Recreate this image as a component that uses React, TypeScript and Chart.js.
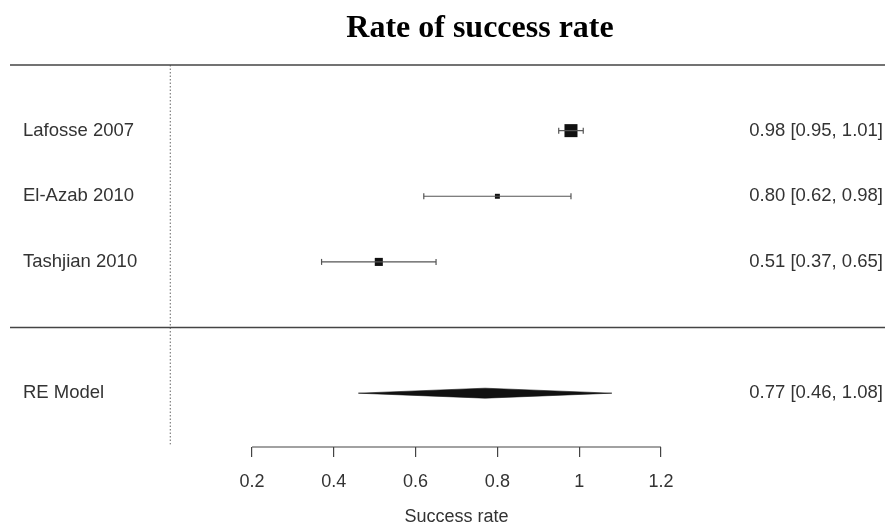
import React, { useEffect, useRef } from "react";
import { Chart, registerables } from "chart.js";

Chart.register(...registerables);

// Study-level results
const studies = ["Lafosse 2007", "El-Azab 2010", "Tashjian 2010"];
const estimates = [0.98, 0.8, 0.51];
const lowerCI = [0.95, 0.62, 0.37];
const upperCI = [1.01, 0.98, 0.65];

// Random-effects summary
const summaryLabel = "RE Model";
const summaryEstimate = 0.77;
const summaryLower = 0.46;
const summaryUpper = 1.08;

// Axis
const tickValues = [0.2, 0.4, 0.6, 0.8, 1.0, 1.2];
const tickLabels = ["0.2", "0.4", "0.6", "0.8", "1", "1.2"];
const axisTitle = "Success rate";
const chartTitle = "Rate of success rate";

// Row layout (study rows 1..n, blank row, then summary)
const studyRows = studies.map((_, i) => i + 1);
const separatorRow = studies.length + 1;
const summaryRow = studies.length + 2;

const X_MIN = -0.392;
const X_MAX = 1.748;
const Y_MAX = 5.82;
const markerRadius = [9.2, 3.5, 5.7];
const diamondHalf = 0.076;

const TEXT = "#333333";
const SANS = "'Liberation Sans', Arial, sans-serif";

const fmt = (v: number) => v.toFixed(2);

export default function App() {
  const ref = useRef<HTMLCanvasElement | null>(null);

  useEffect(() => {
    if (!ref.current) return;
    Chart.defaults.font.family = SANS;

    const ciDatasets = studies.map((_, i) => ({
      type: "scatter" as const,
      data: [
        { x: lowerCI[i], y: studyRows[i] },
        { x: upperCI[i], y: studyRows[i] },
      ],
      showLine: true,
      borderColor: "#555555",
      borderWidth: 1.2,
      pointStyle: "line" as const,
      rotation: 90,
      pointRadius: 3,
      pointBorderColor: "#555555",
      pointBorderWidth: 1.2,
      clip: false as const,
    }));

    const textPlugin = {
      id: "forestText",
      afterDraw(chart: any) {
        const { ctx } = chart;
        const y = chart.scales.y;
        const x = chart.scales.x;
        ctx.save();
        // title
        ctx.fillStyle = "#000";
        ctx.font = "bold 32px 'Liberation Serif', 'Times New Roman', serif";
        ctx.textAlign = "center";
        ctx.textBaseline = "alphabetic";
        ctx.fillText(chartTitle, 480, 37);

        ctx.font = `18.5px ${SANS}`;
        ctx.fillStyle = TEXT;
        ctx.textBaseline = "middle";
        studies.forEach((name, i) => {
          const py = y.getPixelForValue(studyRows[i]);
          ctx.textAlign = "left";
          ctx.fillText(name, 23, py);
          ctx.textAlign = "right";
          ctx.fillText(
            `${fmt(estimates[i])} [${fmt(lowerCI[i])}, ${fmt(upperCI[i])}]`,
            883,
            py
          );
        });
        const sy = y.getPixelForValue(summaryRow);
        ctx.textAlign = "left";
        ctx.fillText(summaryLabel, 23, sy);
        ctx.textAlign = "right";
        ctx.fillText(
          `${fmt(summaryEstimate)} [${fmt(summaryLower)}, ${fmt(summaryUpper)}]`,
          883,
          sy
        );

        // axis title, centred under the tick range
        ctx.font = `18px ${SANS}`;
        ctx.textAlign = "center";
        const mid =
          (x.getPixelForValue(tickValues[0]) +
            x.getPixelForValue(tickValues[tickValues.length - 1])) /
          2;
        ctx.fillText(axisTitle, mid, 517);
        ctx.restore();
      },
    };

    const chart = new Chart(ref.current, {
      type: "scatter",
      data: {
        datasets: [
          // top rule
          {
            data: [
              { x: X_MIN, y: 0 },
              { x: X_MAX, y: 0 },
            ],
            showLine: true,
            borderColor: "#444444",
            borderWidth: 1.6,
            pointRadius: 0,
            clip: false,
          },
          // separator above summary
          {
            data: [
              { x: X_MIN, y: separatorRow },
              { x: X_MAX, y: separatorRow },
            ],
            showLine: true,
            borderColor: "#444444",
            borderWidth: 1.6,
            pointRadius: 0,
            clip: false,
          },
          // reference line at zero
          {
            data: [
              { x: 0, y: 0 },
              { x: 0, y: 5.78 },
            ],
            showLine: true,
            borderColor: "#666666",
            borderWidth: 1,
            borderDash: [1.5, 2],
            pointRadius: 0,
            clip: false,
          },
          // x axis line
          {
            data: [
              { x: tickValues[0], y: Y_MAX },
              { x: tickValues[tickValues.length - 1], y: Y_MAX },
            ],
            showLine: true,
            borderColor: "#444444",
            borderWidth: 1.2,
            pointRadius: 0,
            clip: false,
          },
          ...ciDatasets,
          // point estimates
          {
            data: estimates.map((v, i) => ({ x: v, y: studyRows[i] })),
            pointStyle: "rect",
            pointRadius: markerRadius,
            backgroundColor: "#111111",
            borderColor: "#111111",
            borderWidth: 0,
            clip: false,
          },
          // summary diamond
          {
            data: [
              { x: summaryLower, y: summaryRow },
              { x: summaryEstimate, y: summaryRow - diamondHalf },
              { x: summaryUpper, y: summaryRow },
              { x: summaryEstimate, y: summaryRow + diamondHalf },
              { x: summaryLower, y: summaryRow },
            ],
            showLine: true,
            fill: "shape",
            backgroundColor: "#111111",
            borderColor: "#111111",
            borderWidth: 0.6,
            pointRadius: 0,
            clip: false,
          },
        ] as any,
      },
      options: {
        animation: false,
        responsive: false,
        layout: {
          autoPadding: false,
          padding: { top: 65, left: 10, right: 0, bottom: 0 },
        },
        plugins: {
          legend: { display: false },
          tooltip: { enabled: false },
          title: { display: false },
        },
        scales: {
          x: {
            type: "linear",
            min: X_MIN,
            max: X_MAX,
            afterBuildTicks: (scale: any) => {
              scale.ticks = tickValues.map((value) => ({ value }));
            },
            afterFit: (scale: any) => {
              scale.height = 76;
            },
            ticks: {
              autoSkip: false,
              maxRotation: 0,
              padding: 14,
              color: TEXT,
              font: { size: 18, family: SANS },
              callback: (_v: any, index: number) => tickLabels[index],
            },
            grid: {
              drawOnChartArea: false,
              drawTicks: true,
              tickLength: 10,
              color: "#444444",
              lineWidth: 1.2,
            },
            border: { display: false },
            title: { display: false },
          },
          y: {
            type: "linear",
            display: false,
            reverse: true,
            min: 0,
            max: Y_MAX,
          },
        },
      },
      plugins: [textPlugin],
    });

    return () => chart.destroy();
  }, []);

  return (
    <div
      style={{
        position: "fixed",
        left: 0,
        top: 0,
        width: 885,
        height: 523,
        background: "#fff",
      }}
    >
      <canvas ref={ref} width={885} height={523} style={{ display: "block" }} />
    </div>
  );
}
